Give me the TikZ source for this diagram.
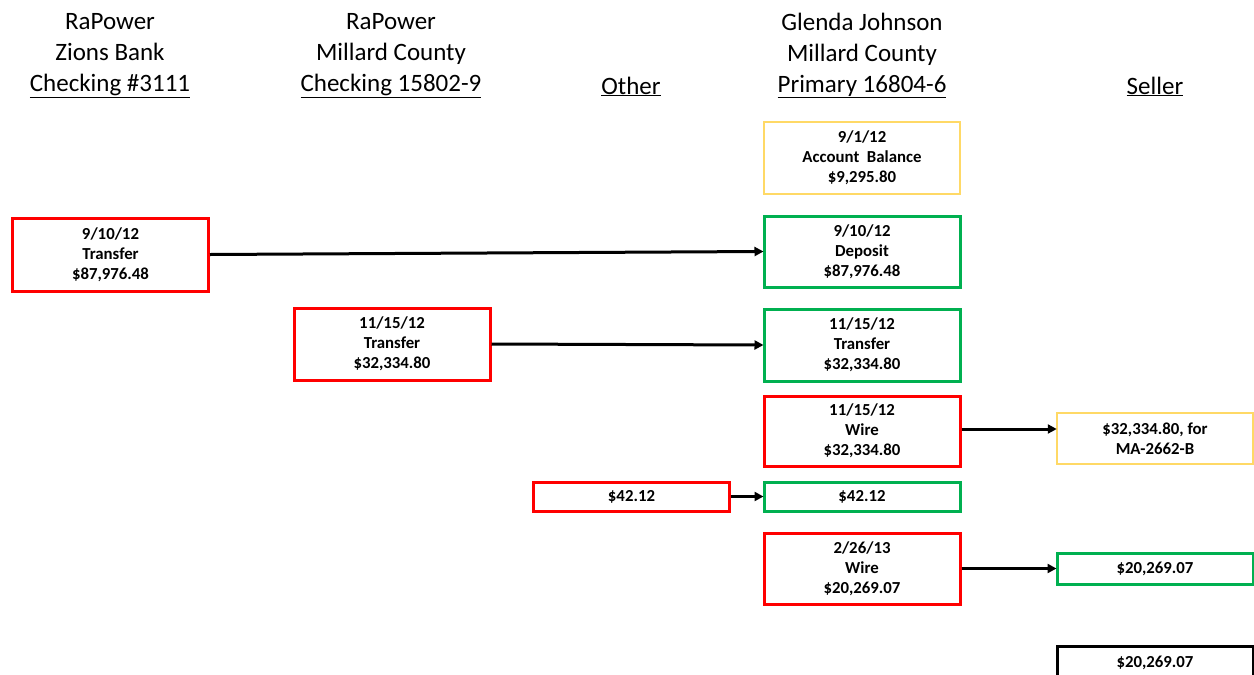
\documentclass[tikz,border=0pt]{standalone}
\usepackage{fontspec}
\setmainfont{Carlito}
\usetikzlibrary{arrows.meta}
\definecolor{cred}{HTML}{FF0000}
\definecolor{cgreen}{HTML}{00B050}
\definecolor{cyel}{HTML}{FFD966}
\tikzset{
  box/.style={draw=#1, line width=3pt, fill=white, minimum width=196pt, align=center,
    inner sep=0pt, font=\fontsize{16.8}{20}\selectfont\bfseries},
  hdr/.style={align=center, font=\fontsize{25}{31}\selectfont, inner sep=0pt},
  flow/.style={line width=3pt, -{Triangle[length=9pt,width=9pt]}, shorten >=-1pt}
}
\begin{document}
\begin{tikzpicture}[x=1pt,y=-1pt]
\useasboundingbox (0,0) rectangle (1254,675);
% headers
\node[hdr] (h1) at (110,55.5) {RaPower\\Zions Bank\\\underline{Checking \#3111}};
\node[hdr] (h2) at (391,55.5) {RaPower\\Millard County\\\underline{Checking 15802-9}};
\node[hdr] (h3) at (631,86.5) {\underline{Other}};
\node[hdr] (h4) at (862,55.5) {Glenda Johnson\\Millard County\\\underline{Primary 16804-6}};
\node[hdr] (h5) at (1155,86.5) {\underline{Seller}};
% boxes
\node[box=cyel, line width=2.5pt, minimum height=72pt] (bal) at (862,158) {9/1/12\\Account~ Balance\\\$9,295.80};
\node[box=cgreen, minimum height=71pt] (dep) at (862,251.5) {9/10/12\\Deposit\\\$87,976.48};
\node[box=cred, minimum height=73pt] (t1) at (110.5,254.5) {9/10/12\\Transfer\\\$87,976.48};
\node[box=cred, minimum height=72pt] (t2) at (392,344) {11/15/12\\Transfer\\\$32,334.80};
\node[box=cgreen, minimum height=72pt] (gt2) at (862,345) {11/15/12\\Transfer\\\$32,334.80};
\node[box=cred, minimum height=70pt] (w1) at (862,431) {11/15/12\\Wire\\\$32,334.80};
\node[box=cyel, line width=2.5pt, minimum height=51pt] (s1) at (1155,438.5) {\$32,334.80, for\\MA-2662-B};
\node[box=cred, minimum height=29pt] (o1) at (631.5,496.5) {\$42.12};
\node[box=cgreen, minimum height=29pt] (g42) at (862,496.5) {\$42.12};
\node[box=cred, minimum height=71pt] (w2) at (862,568.5) {2/26/13\\Wire\\\$20,269.07};
\node[box=cgreen, minimum height=31pt] (s2) at (1155,568.5) {\$20,269.07};
\node[box=black, minimum height=60pt, text depth=29pt] (s3) at (1155,676) {\$20,269.07};
% arrows
\coordinate (a1) at ([yshift=2pt]w1.east);
\draw[flow] (t1.east) -- (dep.west);
\draw[flow] (t2.east) -- (gt2.west);
\draw[flow] (a1) -- (a1 -| s1.west);
\draw[flow] (o1.east) -- (g42.west);
\draw[flow] (w2.east) -- (s2.west);
\end{tikzpicture}
\end{document}
